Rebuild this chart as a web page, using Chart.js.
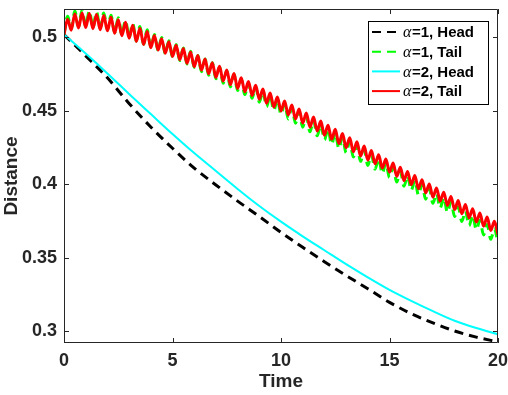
<!DOCTYPE html>
<html>
<head>
<meta charset="utf-8">
<script src="https://cdn.jsdelivr.net/npm/chart.js@4/dist/chart.umd.min.js"></script>
<style>
  html, body { margin: 0; padding: 0; background: #fff; }
  #wrap { width: 508px; height: 395px; position: relative; }
</style>
</head>
<body>
<div id="wrap"><canvas id="chart"></canvas></div>
<script>
// distance vs time
var headTime = [0,1,2,3,4,5,6,7,8,9,10,11,12,13,14,15,16,17,18,19,20];
var head1 = [0.502,0.4875,0.4725,0.455,0.439,0.4245,0.411,0.3995,0.3885,0.378,0.3672,
             0.357,0.3472,0.3378,0.3288,0.3195,0.3118,0.3055,0.3,0.2958,0.2925];
var head2 = [0.502,0.489,0.4755,0.4615,0.4478,0.4342,0.4212,0.409,0.3968,0.3852,0.3745,
             0.3645,0.355,0.3455,0.3365,0.328,0.3205,0.3135,0.307,0.302,0.2978];

// tail curves: peaks and troughs of the wiggle
var tailTime = [0,
  0.1667,0.3333,0.5,0.6667,0.8333,1, 1.1667,1.3333,1.5,1.6667,1.8333,2,
  2.1667,2.3333,2.5,2.6667,2.8333,3, 3.1667,3.3333,3.5,3.6667,3.8333,4,
  4.1667,4.3333,4.5,4.6667,4.8333,5, 5.1667,5.3333,5.5,5.6667,5.8333,6,
  6.1667,6.3333,6.5,6.6667,6.8333,7, 7.1667,7.3333,7.5,7.6667,7.8333,8,
  8.1667,8.3333,8.5,8.6667,8.8333,9, 9.1667,9.3333,9.5,9.6667,9.8333,10,
  10.1667,10.3333,10.5,10.6667,10.8333,11, 11.1667,11.3333,11.5,11.6667,11.8333,12,
  12.1667,12.3333,12.5,12.6667,12.8333,13, 13.1667,13.3333,13.5,13.6667,13.8333,14,
  14.1667,14.3333,14.5,14.6667,14.8333,15, 15.1667,15.3333,15.5,15.6667,15.8333,16,
  16.1667,16.3333,16.5,16.6667,16.8333,17, 17.1667,17.3333,17.5,17.6667,17.8333,18,
  18.1667,18.3333,18.5,18.6667,18.8333,19, 19.1667,19.3333,19.5,19.6667,19.8333,20];
var tail1 = [0.502,
  0.5145,0.5060,0.5180,0.5074,0.5187,0.5078, 0.5182,0.5068,0.5175,0.5061,0.5167,0.5053,
  0.5152,0.5033,0.5135,0.5017,0.5118,0.5000, 0.5096,0.4975,0.5075,0.4954,0.5053,0.4932,
  0.5021,0.4912,0.5000,0.4891,0.4978,0.4869, 0.4952,0.4843,0.4929,0.4819,0.4906,0.4796,
  0.4877,0.4767,0.4853,0.4742,0.4828,0.4718, 0.4799,0.4688,0.4774,0.4663,0.4749,0.4638,
  0.4715,0.4610,0.4690,0.4585,0.4664,0.4559, 0.4634,0.4528,0.4607,0.4502,0.4580,0.4475,
  0.4549,0.4444,0.4522,0.4416,0.4495,0.4389, 0.4463,0.4357,0.4436,0.4330,0.4408,0.4302,
  0.4377,0.4271,0.4349,0.4242,0.4320,0.4214, 0.4291,0.4185,0.4263,0.4156,0.4234,0.4128,
  0.4202,0.4102,0.4174,0.4073,0.4145,0.4045, 0.4115,0.4015,0.4087,0.3986,0.4058,0.3958,
  0.4027,0.3927,0.3999,0.3898,0.3970,0.3870, 0.3937,0.3837,0.3909,0.3808,0.3880,0.3780,
  0.3846,0.3746,0.3818,0.3717,0.3789,0.3689, 0.3754,0.3654,0.3726,0.3625,0.3697,0.3597];
var tail2 = [0.502,
  0.5125,0.5050,0.5160,0.5064,0.5167,0.5068, 0.5164,0.5060,0.5157,0.5053,0.5149,0.5045,
  0.5137,0.5028,0.5120,0.5012,0.5103,0.4995, 0.5084,0.4973,0.5063,0.4952,0.5041,0.4930,
  0.5013,0.4914,0.4992,0.4893,0.4970,0.4871, 0.4947,0.4848,0.4924,0.4824,0.4901,0.4801,
  0.4877,0.4777,0.4853,0.4752,0.4828,0.4728, 0.4804,0.4703,0.4779,0.4678,0.4754,0.4653,
  0.4725,0.4630,0.4700,0.4605,0.4674,0.4579, 0.4648,0.4552,0.4621,0.4526,0.4594,0.4499,
  0.4567,0.4472,0.4540,0.4444,0.4513,0.4417, 0.4485,0.4389,0.4458,0.4362,0.4430,0.4334,
  0.4402,0.4306,0.4374,0.4277,0.4345,0.4249, 0.4317,0.4221,0.4289,0.4192,0.4260,0.4164,
  0.4229,0.4139,0.4201,0.4110,0.4172,0.4082, 0.4144,0.4054,0.4116,0.4025,0.4087,0.3997,
  0.4059,0.3969,0.4031,0.3940,0.4002,0.3912, 0.3974,0.3884,0.3946,0.3855,0.3917,0.3827,
  0.3889,0.3799,0.3861,0.3770,0.3832,0.3742, 0.3804,0.3714,0.3776,0.3685,0.3747,0.3657];

var xTicks = [0,5,10,15,20];
var yTicks = [0.3,0.35,0.4,0.45,0.5];
var labels = ["α=1, Head","α=1, Tail","α=2, Head","α=2, Tail"];

function pts(t, v) { return v.map(function(y, i){ return {x: t[i], y: y}; }); }

var axisColor = '#262626';
var sans = "'Liberation Sans', Arial, Helvetica, sans-serif";

// box, inward ticks and the matlab style legend
var framePlugin = {
  id: 'frame',
  afterDraw: function(chart) {
    var ctx = chart.ctx, a = chart.chartArea, sx = chart.scales.x, sy = chart.scales.y;
    ctx.save();
    ctx.strokeStyle = axisColor;
    ctx.lineWidth = 1;
    ctx.beginPath();
    ctx.rect(Math.round(a.left)+0.5, Math.round(a.top)+0.5, Math.round(a.right-a.left)-1, Math.round(a.bottom-a.top)-1);
    xTicks.forEach(function(v){
      var p = Math.round(sx.getPixelForValue(v))+0.5;
      ctx.moveTo(p, a.bottom); ctx.lineTo(p, a.bottom-5);
      ctx.moveTo(p, a.top); ctx.lineTo(p, a.top+5);
    });
    yTicks.forEach(function(v){
      var p = Math.round(sy.getPixelForValue(v))+0.5;
      ctx.moveTo(a.left, p); ctx.lineTo(a.left+5, p);
      ctx.moveTo(a.right, p); ctx.lineTo(a.right-5, p);
    });
    ctx.stroke();

    // legend
    var bx = 368.5, by = 21.5, bw = 120, bh = 83;
    ctx.fillStyle = '#fff';
    ctx.fillRect(bx, by, bw, bh);
    ctx.strokeStyle = '#000';
    ctx.strokeRect(bx, by, bw, bh);
    chart.data.datasets.forEach(function(ds, i){
      var yy = 32 + i*19.7;
      ctx.beginPath();
      ctx.strokeStyle = ds.borderColor;
      ctx.lineWidth = ds.legendWidth;
      ctx.setLineDash(ds.borderDash || []);
      ctx.moveTo(372, yy); ctx.lineTo(400, yy);
      ctx.stroke();
      ctx.setLineDash([]);
      ctx.fillStyle = '#000';
      ctx.textBaseline = 'middle';
      ctx.textAlign = 'left';
      ctx.font = "italic 16px 'Liberation Serif', 'DejaVu Serif', serif";
      var greek = ds.label.charAt(0), rest = ds.label.slice(1);
      ctx.fillText(greek, 403, yy+1);
      var w = ctx.measureText(greek).width;
      ctx.font = "bold 15px " + sans;
      ctx.fillText(rest, 403 + w + 0.5, yy+1);
    });
    ctx.restore();
  }
};

var chart = new Chart(document.getElementById('chart').getContext('2d'), {
  type: 'line',
  data: {
    datasets: [
      { label: labels[0], data: pts(headTime, head1), borderColor: '#000000', borderWidth: 3, legendWidth: 2,
        borderDash: [9,6], order: 3 },
      { label: labels[1], data: pts(tailTime, tail1), borderColor: '#00ff00', borderWidth: 3, legendWidth: 2,
        borderDash: [9,6], order: 2 },
      { label: labels[2], data: pts(headTime, head2), borderColor: '#00ffff', borderWidth: 2, legendWidth: 2,
        order: 1 },
      { label: labels[3], data: pts(tailTime, tail2), borderColor: '#ff0000', borderWidth: 3, legendWidth: 2,
        order: 0 }
    ]
  },
  options: {
    responsive: true,
    maintainAspectRatio: false,
    animation: false,
    layout: { padding: { top: 9, right: 10, left: 0, bottom: 0 } },
    elements: {
      point: { radius: 0 },
      line: { cubicInterpolationMode: 'monotone', fill: false }
    },
    plugins: { legend: { display: false }, tooltip: { enabled: false } },
    scales: {
      x: {
        type: 'linear', min: 0, max: 20,
        afterBuildTicks: function(s){ s.ticks = xTicks.map(function(v){ return {value: v}; }); },
        afterFit: function(s){ s.height = 52; s.paddingLeft = 0; s.paddingRight = 0; },
        grid: { display: false, drawTicks: false },
        border: { display: false },
        ticks: { padding: 7, color: axisColor, font: { family: sans, size: 18, weight: 'bold' }, maxRotation: 0 },
        title: { display: true, text: 'Time', color: axisColor, padding: { top: 0, bottom: 2 },
                 font: { family: sans, size: 19, weight: 'bold' } }
      },
      y: {
        type: 'linear', min: 0.2918, max: 0.5194,
        afterBuildTicks: function(s){ s.ticks = yTicks.map(function(v){ return {value: v}; }); },
        afterFit: function(s){ s.width = 64; s.paddingTop = 0; s.paddingBottom = 0; },
        grid: { display: false, drawTicks: false },
        border: { display: false },
        ticks: { padding: 7, color: axisColor, font: { family: sans, size: 18, weight: 'bold' },
                 callback: function(v){ return String(Math.round(v*100)/100); } },
        title: { display: true, text: 'Distance', color: axisColor, padding: { top: 0, bottom: 0 },
                 font: { family: sans, size: 19, weight: 'bold' } }
      }
    }
  },
  plugins: [framePlugin]
});
</script>
</body>
</html>
